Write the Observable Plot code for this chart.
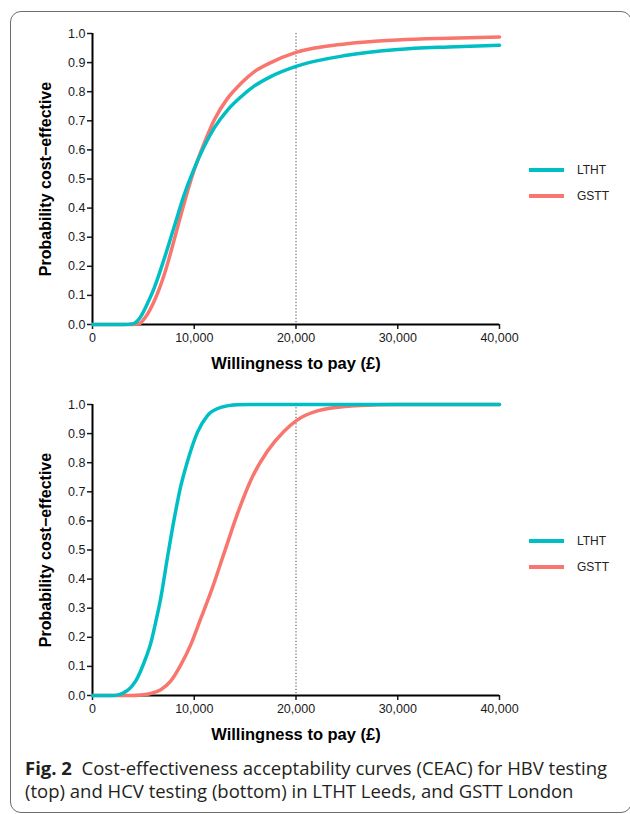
<!DOCTYPE html>
<html>
<head>
<meta charset="utf-8">
<script src="https://cdn.jsdelivr.net/npm/d3@7"></script>
<script src="https://cdn.jsdelivr.net/npm/@observablehq/plot@0.6"></script>
<style>
  body { margin: 0; background: #fff; }
  #wrap { position: relative; width: 630px; height: 814px; overflow: hidden; background: #fff; }
  .frame { position: absolute; left: 10px; top: 11px; width: 622px; height: 802px; box-sizing: border-box;
           border: 1.5px solid #6e6e6e; border-radius: 11px; }
  .plot { position: absolute; left: 0; }
  .legend { position: absolute; left: 529px; font-family: "Liberation Sans", Arial, sans-serif; font-size: 12px; color: #222; }
  .legend .item { position: absolute; left: 0; width: 100px; height: 0; }
  .legend .sw { position: absolute; left: 0; top: -2px; width: 35px; height: 4px; }
  .legend .lab { position: absolute; left: 48px; top: -7px; line-height: 14px; white-space: nowrap; }
  .caption { position: absolute; left: 25px; top: 756px; font-family: "Open Sans", sans-serif; font-size: 18.5px;
             line-height: 23px; color: #231f20; white-space: nowrap; }
  .caption b { font-weight: 700; }
</style>
</head>
<body>
<div id="wrap">
  <div class="frame"></div>
  <div id="p1" class="plot" style="top:0px"></div>
  <div id="p2" class="plot" style="top:370px"></div>
  <div class="legend" style="top:0px">
    <div class="item" style="top:170px"><div class="sw" style="background:#00BFC4"></div><div class="lab">LTHT</div></div>
    <div class="item" style="top:196px"><div class="sw" style="background:#F8766D"></div><div class="lab">GSTT</div></div>
  </div>
  <div class="legend" style="top:370px">
    <div class="item" style="top:171px"><div class="sw" style="background:#00BFC4"></div><div class="lab">LTHT</div></div>
    <div class="item" style="top:197px"><div class="sw" style="background:#F8766D"></div><div class="lab">GSTT</div></div>
  </div>
  <div class="caption"><b>Fig. 2</b>&nbsp; Cost-effectiveness acceptability curves (CEAC) for HBV testing<br>(top) and HCV testing (bottom) in LTHT Leeds, and GSTT London</div>
</div>
<script>
// ---- Data ----
const seriesNames = ["LTHT", "GSTT"];
const seriesColors = ["#00BFC4", "#F8766D"];
const xTicks = [0, 10000, 20000, 30000, 40000];
const yTicks = [0, 0.1, 0.2, 0.3, 0.4, 0.5, 0.6, 0.7, 0.8, 0.9, 1.0];
const thresholdWTP = 20000;
const xLabel = "Willingness to pay (£)";
const yLabel = "Probability cost\u2212effective";

// Top panel: HBV testing
const hbvLTHT_x = [0, 3000, 4000, 4700, 5400, 6060, 7040, 8020, 9000, 9985, 10970, 11950, 13270, 14575, 15880, 17520, 20000, 25000, 30000, 35000, 40000];
const hbvLTHT_y = [0, 0, 0.003, 0.025, 0.072, 0.125, 0.225, 0.335, 0.445, 0.535, 0.612, 0.675, 0.737, 0.782, 0.819, 0.852, 0.887, 0.925, 0.945, 0.954, 0.96];
const hbvGSTT_x = [0, 4000, 4600, 5200, 6060, 7040, 8020, 9000, 9985, 10970, 11950, 13270, 14575, 15880, 17520, 20000, 25000, 30000, 35000, 40000];
const hbvGSTT_y = [0, 0, 0.003, 0.025, 0.08, 0.17, 0.29, 0.416, 0.53, 0.622, 0.702, 0.777, 0.828, 0.868, 0.90, 0.935, 0.965, 0.978, 0.984, 0.988];

// Bottom panel: HCV testing
const hcvLTHT_x = [0, 2000, 2500, 3000, 3770, 4250, 4750, 5250, 5730, 6200, 6710, 7370, 8020, 8680, 9340, 10320, 11300, 12610, 14250, 15500, 20000, 30000, 40000];
const hcvLTHT_y = [0, 0, 0.002, 0.008, 0.028, 0.05, 0.086, 0.13, 0.18, 0.25, 0.335, 0.475, 0.605, 0.72, 0.805, 0.905, 0.962, 0.99, 0.999, 1, 1, 1, 1];
const hcvGSTT_x = [0, 4000, 4750, 5730, 6710, 7700, 8680, 9660, 10645, 11630, 12940, 14250, 15560, 17200, 18830, 20000, 22110, 25390, 28000, 30000, 40000];
const hcvGSTT_y = [0, 0, 0.002, 0.007, 0.02, 0.05, 0.105, 0.175, 0.265, 0.355, 0.49, 0.625, 0.74, 0.84, 0.908, 0.944, 0.978, 0.995, 0.999, 1, 1];

function rows(name, xs, ys) { return xs.map((x, i) => ({series: name, wtp: x, p: ys[i]})); }

function panel(lthtX, lthtY, gsttX, gsttY, marginTop, marginBottom) {
  const data = [...rows("GSTT", gsttX, gsttY), ...rows("LTHT", lthtX, lthtY)];
  return Plot.plot({
    width: 630, height: 380,
    marginLeft: 92, marginRight: 131, marginTop, marginBottom,
    style: {fontFamily: "'Liberation Sans', Arial, sans-serif", fontSize: "12.5px", background: "transparent", color: "#1a1a1a"},
    x: {domain: [0, 40000]},
    y: {domain: [0, 1]},
    color: {domain: seriesNames, range: seriesColors},
    marks: [
      Plot.ruleX([thresholdWTP], {stroke: "#444", strokeWidth: 1, strokeDasharray: "1.2,2"}),
      Plot.axisY({ticks: yTicks, tickFormat: d3.format(".1f"), tickSize: 5, tickPadding: 2, label: null, strokeWidth: 1.5, fontSize: 12.5}),
      Plot.axisX({ticks: xTicks, tickFormat: d3.format(","), tickSize: 5, tickPadding: 4, label: null, strokeWidth: 1.5, fontSize: 12.5}),
      Plot.ruleX([0], {stroke: "#000", strokeWidth: 2}),
      Plot.ruleY([0], {stroke: "#000", strokeWidth: 2}),
      Plot.line(data, {x: "wtp", y: "p", z: "series", stroke: "series", strokeWidth: 3.5, curve: "monotone-x"}),
      Plot.text([xLabel], {frameAnchor: "bottom", dy: 44, fontWeight: "bold", fontSize: 16.5, fill: "#000"}),
      Plot.text([yLabel], {frameAnchor: "left", dx: -47, textAnchor: "middle", rotate: -90, fontWeight: "bold", fontSize: 16, fill: "#000"})
    ]
  });
}

document.getElementById("p1").append(panel(hbvLTHT_x, hbvLTHT_y, hbvGSTT_x, hbvGSTT_y, 33, 56));
document.getElementById("p2").append(panel(hcvLTHT_x, hcvLTHT_y, hcvGSTT_x, hcvGSTT_y, 34, 55));
</script>
</body>
</html>
